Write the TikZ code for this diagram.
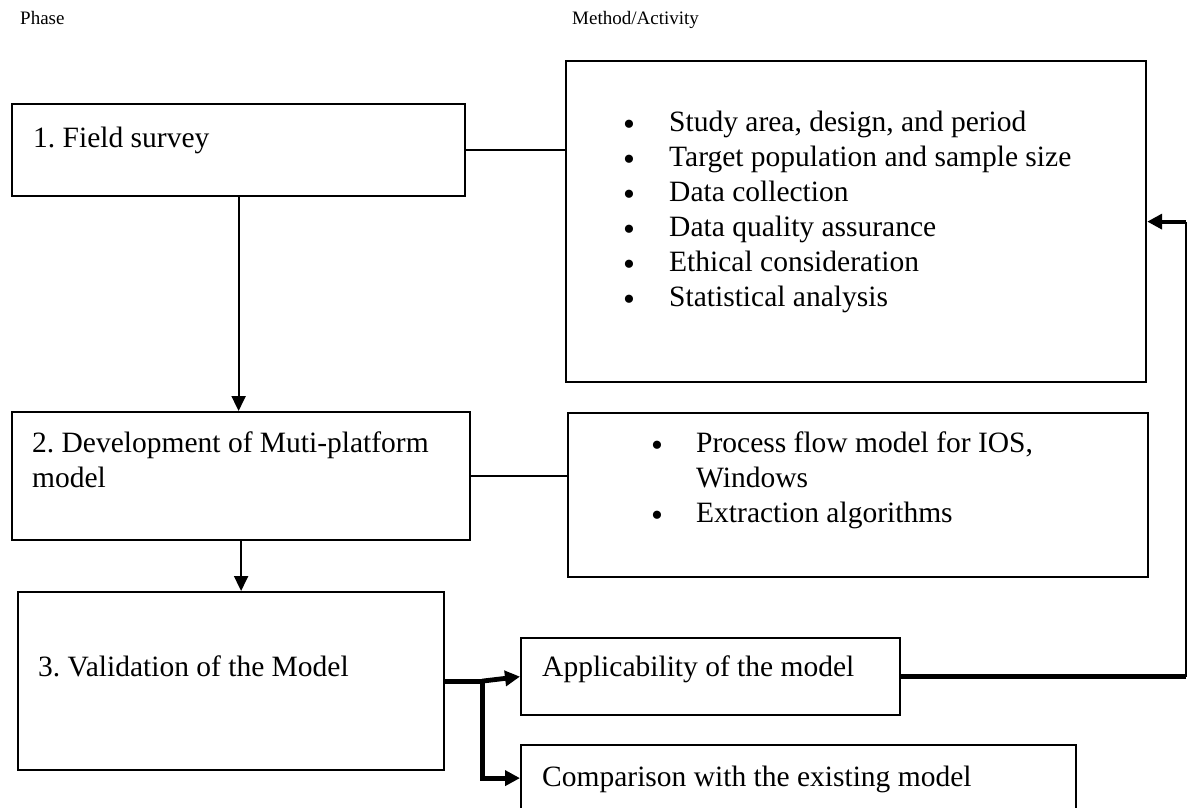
\documentclass[tikz,border=0pt]{standalone}
\usepackage{fontspec}
\setmainfont{Liberation Serif}
\usetikzlibrary{arrows.meta,calc}
\frenchspacing
\begin{document}
\begin{tikzpicture}[x=1pt,y=-1pt,
 box/.style={draw, line width=2.2pt, anchor=north west, inner sep=0pt},
 lbl/.style={anchor=west, inner sep=0pt, text height=20pt, text depth=6pt, font=\fontsize{29.5}{35}\selectfont\frenchspacing},
 hdr/.style={anchor=west, inner sep=0pt, font=\fontsize{19}{23}\selectfont},
 bul/.style={anchor=base, inner sep=0pt, text height=16pt, text depth=0pt, font=\fontsize{34}{34}\selectfont},
 thinline/.style={line width=2pt},
 thickline/.style={line width=4.8pt},
 tip/.style={-{Triangle[length=15pt,width=14pt]}},
 bigtip/.style={-{Triangle[length=15pt,width=15pt]}}
]
\path[use as bounding box] (0,0) rectangle (1188,807);
\clip (0,0) rectangle (1188,807);

% headers
\node[hdr] (hphase) at (20,18) {Phase};
\node[hdr] (hmeth) at (572,20) {Method/Activity};

% phase boxes
\node[box, minimum width=453pt, minimum height=92pt] (b1) at (11,103) {};
\node[lbl] (t1) at (33,140) {1. Field survey};

\node[box, minimum width=458pt, minimum height=128pt] (b2) at (11,411) {};
\node[lbl] (t2a) at (32,445) {2. Development of Muti-platform};
\node[lbl] (t2b) at (32,480) {model};

\node[box, minimum width=426pt, minimum height=178pt] (b3) at (17,591) {};
\node[lbl] (t3) at (38,669) {3. Validation of the Model};

% method boxes
\node[box, minimum width=580pt, minimum height=321pt] (bA) at (565,60) {};
\node[bul] (ba1) at (629,135) {•}; \node[lbl] (ta1) at (669,124) {Study area, design, and period};
\node[bul] (ba2) at (629,170) {•}; \node[lbl] (ta2) at (669,159) {Target population and sample size};
\node[bul] (ba3) at (629,205) {•}; \node[lbl] (ta3) at (669,194) {Data collection};
\node[bul] (ba4) at (629,240) {•}; \node[lbl] (ta4) at (669,229) {Data quality assurance};
\node[bul] (ba5) at (629,275) {•}; \node[lbl] (ta5) at (669,264) {Ethical consideration};
\node[bul] (ba6) at (629,310) {•}; \node[lbl] (ta6) at (669,299) {Statistical analysis};

\node[box, minimum width=580pt, minimum height=164pt] (bB) at (567,412) {};
\node[bul] (bb1) at (657,456) {•}; \node[lbl] (tb1) at (696,445) {Process flow model for IOS,};
\node[lbl] (tb2) at (696,480) {Windows};
\node[bul] (bb3) at (657,526) {•}; \node[lbl] (tb3) at (696,515) {Extraction algorithms};

% validation outcome boxes
\node[box, minimum width=379pt, minimum height=77pt] (app) at (520,637) {};
\node[lbl] (tapp) at (542,669) {Applicability of the model};
\node[box, minimum width=555pt, minimum height=66pt] (cmp) at (520,744) {};
\node[lbl] (tcmp) at (542,779) {Comparison with the existing model};

% connectors
\draw[thinline] (b1.east) -- (bA.west |- b1.east);
\draw[thinline] (b2.east) -- (bB.west |- b2.east);
\draw[thinline, tip] (b1.south) -- (b1.south |- b2.north);
\draw[thinline, tip] (b2.south) -- (b2.south |- b3.north);

\coordinate (j) at ($(b3.east)+(37,0)$);
\draw[thickline] (b3.east) -- (j);
\draw[thickline, bigtip] (j) -- (app.west);
\draw[thickline, bigtip] (j) |- (cmp.west);

\coordinate (fb) at (1186,0);
\draw[thickline] (app.east) -- (app.east -| fb);
\draw[line width=2.4pt] (app.east -| fb) -- (bA.east -| fb);
\draw[line width=4.2pt, bigtip] (bA.east -| fb) -- (bA.east);
\end{tikzpicture}
\end{document}
